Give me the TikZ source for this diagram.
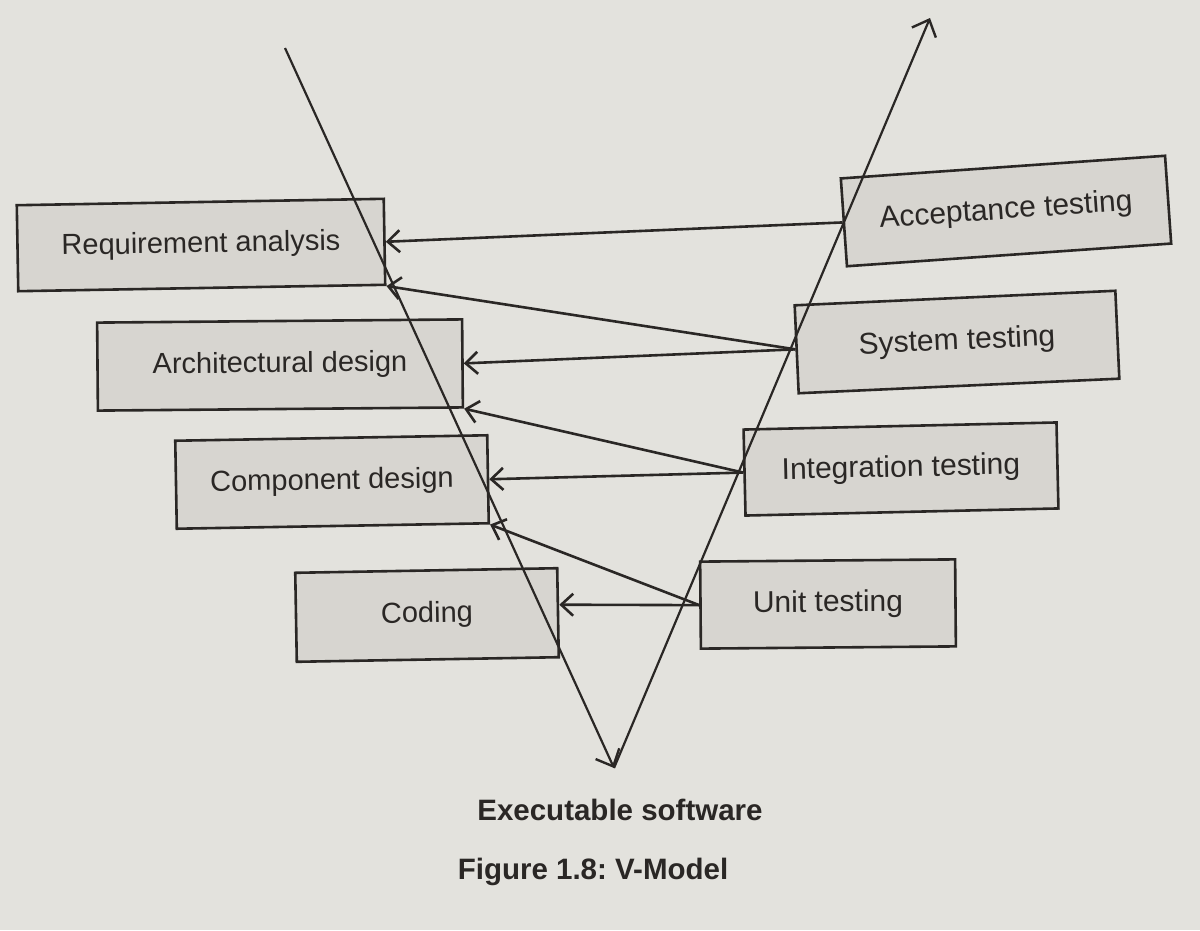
\documentclass[tikz,border=0pt]{standalone}
\usepackage{fontspec}
\setmainfont{Liberation Sans}
\usetikzlibrary{arrows.meta}
\definecolor{paper}{HTML}{E3E2DD}
\definecolor{boxfill}{HTML}{D7D5D0}
\definecolor{ink}{HTML}{2A2725}
\frenchspacing
\begin{document}
\begin{tikzpicture}[x=1pt,y=-1pt,
  phase/.style={draw=ink, line width=2.6pt, fill=boxfill, inner sep=0pt,
    text=ink, font=\fontsize{29}{33}\selectfont},
  testbox/.style={phase, font=\fontsize{30}{34}\selectfont},
  vline/.style={draw=ink, line width=2.2pt,
    -{Straight Barb[length=14pt,width=26pt,line width=2.4pt]}},
  link/.style={draw=ink, line width=2.6pt,
    -{Straight Barb[length=12pt,width=22pt,line width=2.6pt]}},
  caption/.style={text=ink, font=\bfseries\fontsize{29.5}{33}\selectfont}]
  % page
  \fill[paper] (0,0) rectangle (1200,930);
  \useasboundingbox (0,0) rectangle (1200,930);

  % left leg: development phases
  \node[phase, minimum width=367pt, minimum height=86pt, rotate=1]   (req)  at (201,245) {Requirement analysis};
  \node[phase, minimum width=365pt, minimum height=88pt, rotate=0.5] (arch) at (280,365) {Architectural design};
  \node[phase, minimum width=312pt, minimum height=88pt, rotate=1]   (comp) at (332,482) {Component design};
  \node[phase, minimum width=262pt, minimum height=89pt, rotate=1]   (code) at (427,615) {Coding};

  % right leg: testing phases
  \node[testbox, minimum width=325pt, minimum height=88pt, rotate=4]   (acc)  at (1006,211) {Acceptance testing};
  \node[testbox, minimum width=321pt, minimum height=88pt, rotate=2.6] (sys)  at (957,342)  {System testing};
  \node[testbox, minimum width=313pt, minimum height=86pt, rotate=1.3] (int)  at (901,469)  {Integration testing};
  \node[testbox, minimum width=255pt, minimum height=87pt, rotate=0.5] (unit) at (828,604)  {Unit testing};

  % the V
  \coordinate (vl) at (285,48);
  \coordinate (vb) at (614,768);
  \coordinate (vr) at (930,18);
  \draw[vline] (vl) -- (vb);
  \draw[vline] (vb) -- (vr);

  % verification links
  \draw[link] (acc.west)  -- (req.east);
  \draw[link] (sys.west)  -- (req.south east);
  \draw[link] (sys.west)  -- (arch.east);
  \draw[link] (int.west)  -- (arch.south east);
  \draw[link] (int.west)  -- (comp.east);
  \draw[link] (unit.west) -- (comp.south east);
  \draw[link] (unit.west) -- ([yshift=8pt]code.east);

  % labels
  \node[caption] (exe) at (620,810) {Executable software};
  \node[caption] (fig) at (593,872) {Figure 1.8: V-Model};
\end{tikzpicture}
\end{document}
